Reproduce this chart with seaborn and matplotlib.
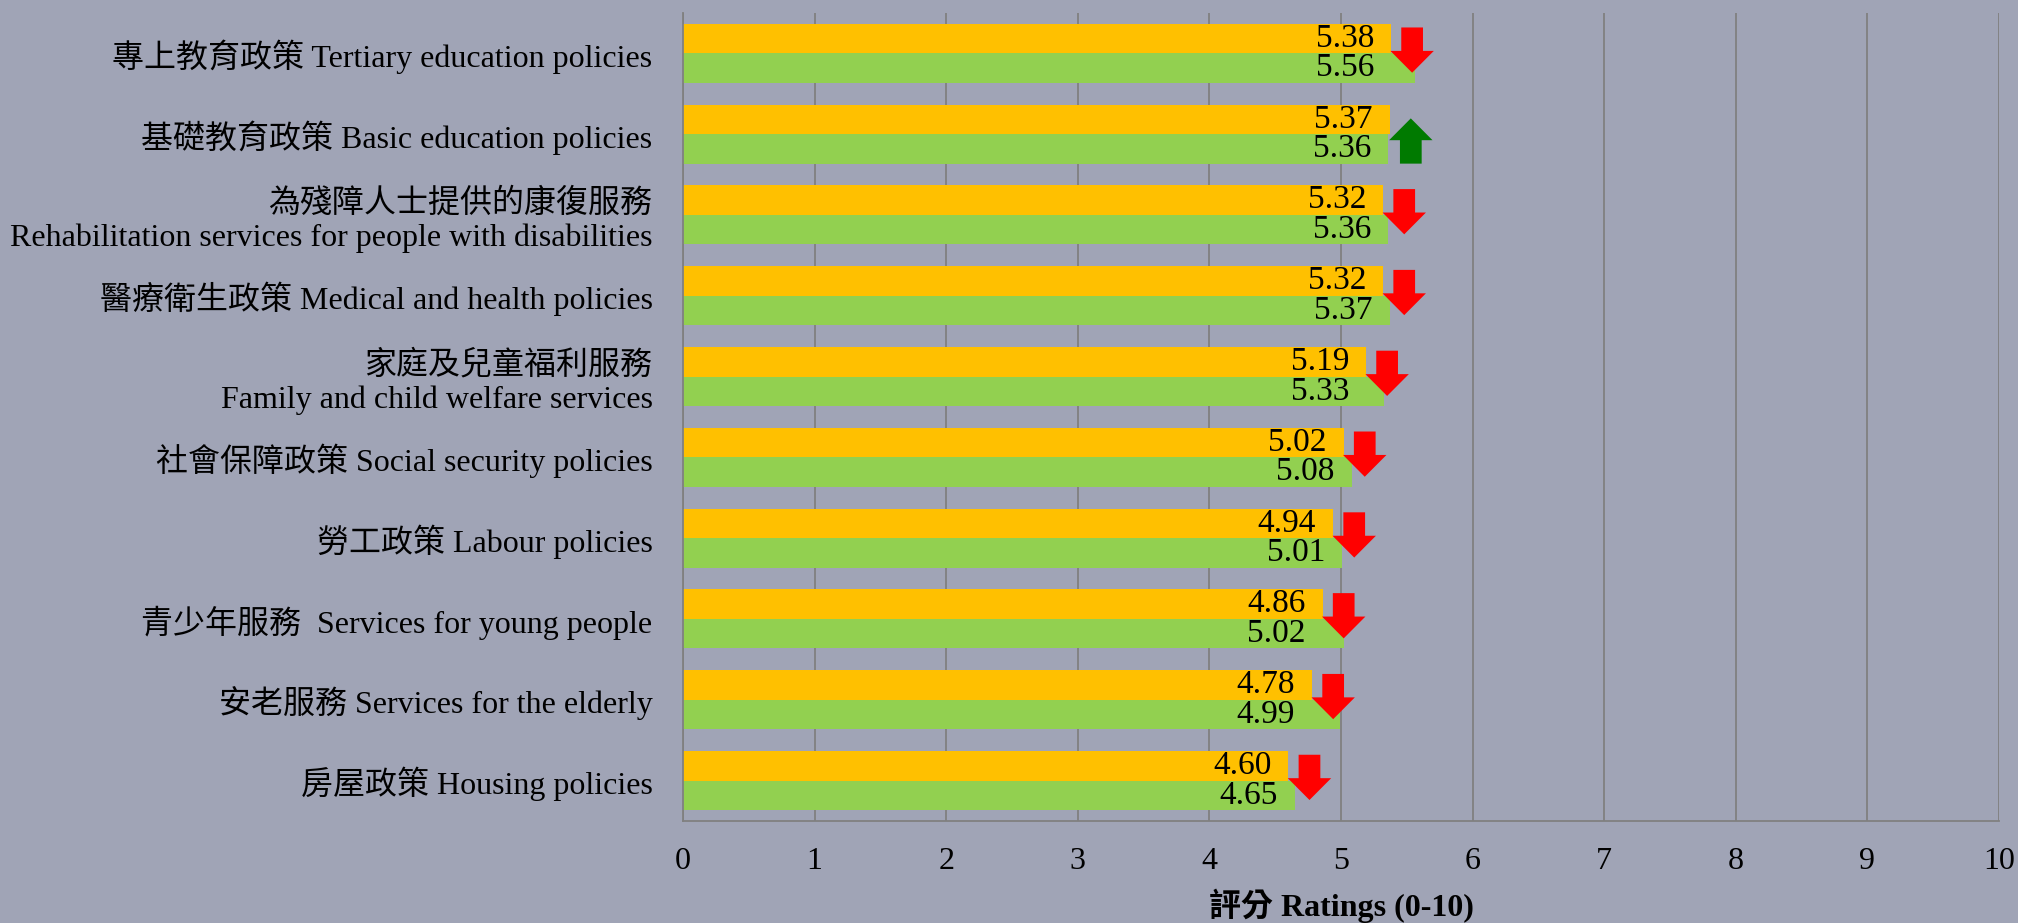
import matplotlib
matplotlib.use('Agg')
import matplotlib.pyplot as plt
import seaborn as sns
import numpy as np
import pandas as pd

# data
categories = ['專上教育政策 Tertiary education policies',
              '基礎教育政策 Basic education policies',
              '為殘障人士提供的康復服務\nRehabilitation services for people with disabilities',
              '醫療衛生政策 Medical and health policies',
              '家庭及兒童福利服務\nFamily and child welfare services',
              '社會保障政策 Social security policies',
              '勞工政策 Labour policies',
              '青少年服務  Services for young people',
              '安老服務 Services for the elderly',
              '房屋政策 Housing policies']
current = [5.38, 5.37, 5.32, 5.32, 5.19, 5.02, 4.94, 4.86, 4.78, 4.60]
previous = [5.56, 5.36, 5.36, 5.37, 5.33, 5.08, 5.01, 5.02, 4.99, 4.65]
x_ticks = list(range(0, 11))

bg = '#A0A4B6'
orange = '#FFC000'
green = '#92D050'
grid_col = '#808080'

df = pd.DataFrame({
    'item': categories * 2,
    'rating': current + previous,
    'survey': ['current'] * len(categories) + ['previous'] * len(categories),
})

sns.set_theme(style='white')
plt.rcParams['font.family'] = ['Liberation Serif', 'Noto Sans CJK TC']
plt.rcParams['text.color'] = 'black'
plt.rcParams['xtick.color'] = 'black'
plt.rcParams['ytick.color'] = 'black'
plt.rcParams['axes.labelcolor'] = 'black'

fig = plt.figure(figsize=(20.18, 9.23), dpi=100)
fig.patch.set_facecolor(bg)
ax = fig.add_axes([0.3385, 0.1105, 0.6521, 0.8755])
ax.set_facecolor(bg)

sns.barplot(data=df, y='item', x='rating', hue='survey', orient='h',
            palette=[orange, green], width=0.73, saturation=1,
            errorbar=None, legend=False, linewidth=0, edgecolor='none', ax=ax)

ax.set_xlim(0, 10)
ax.set_ylim(len(categories) - 0.5, -0.5)
ax.set_xticks(x_ticks)
ax.set_axisbelow(True)
ax.xaxis.grid(True, color=grid_col, lw=1.3)

# value labels and change arrows
for i, (c, p) in enumerate(zip(current, previous)):
    ax.text(c - 0.13, i - 0.1825, f'{c:.2f}', ha='right', va='center', fontsize=24)
    gx = p - 0.13 if p - 0.13 <= c else c - 0.13
    ax.text(gx, i + 0.1825, f'{p:.2f}', ha='right', va='center', fontsize=24)
    ax_x = c + 0.16
    if c < p:
        ax.arrow(ax_x, i - 0.32, 0, 0.56, width=0.165, head_width=0.33,
                 head_length=0.27, length_includes_head=True,
                 color='#FF0000', lw=0, zorder=5)
    else:
        ax.arrow(ax_x, i + 0.365, 0, -0.56, width=0.165, head_width=0.33,
                 head_length=0.27, length_includes_head=True,
                 color='#007A00', lw=0, zorder=5)

ax.set_yticks(np.arange(-0.5, len(categories), 1), minor=True)
ax.tick_params(axis='y', which='major', length=0, pad=22, labelsize=23)
ax.tick_params(axis='y', which='minor', length=8, color=grid_col, width=1.3)
ax.tick_params(axis='x', length=10, color=grid_col, width=1.3, labelsize=23, pad=9,
               labelcolor='black')

for s in ['top', 'right']:
    ax.spines[s].set_visible(False)
for s in ['left', 'bottom']:
    ax.spines[s].set_color(grid_col)
    ax.spines[s].set_linewidth(1.3)

ax.set_ylabel('')
ax.set_xlabel('評分 Ratings (0-10)', fontsize=23, fontweight='bold', labelpad=9)

plt.savefig('out.png', facecolor=bg)
